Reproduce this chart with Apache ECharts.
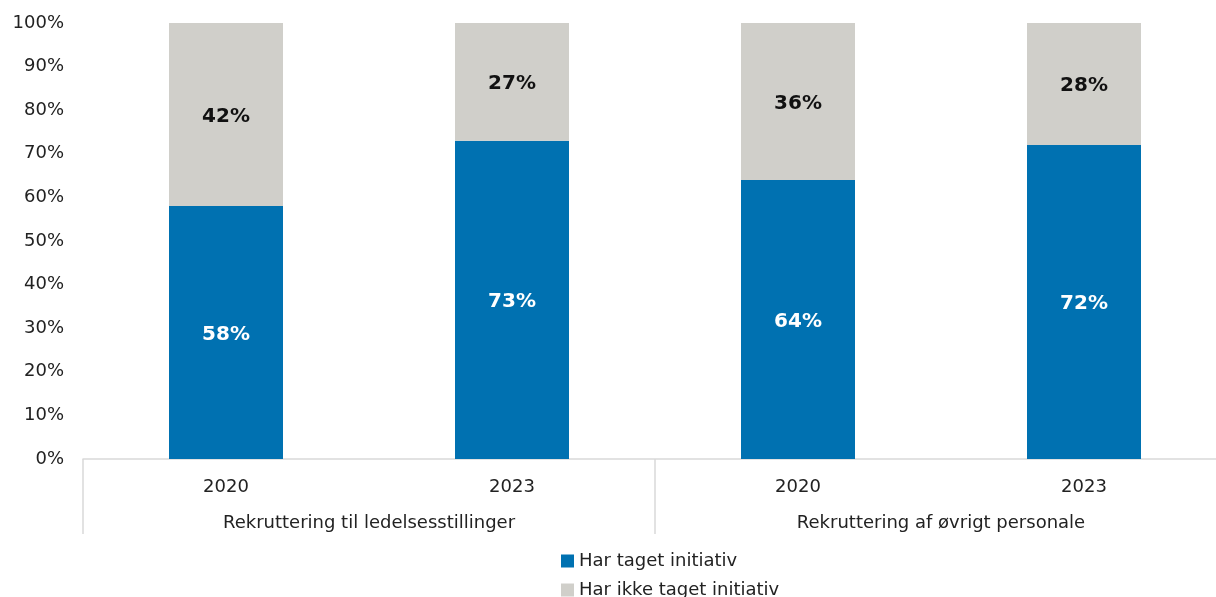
<!DOCTYPE html>
<html>
<head>
<meta charset="utf-8">
<script src="https://cdn.jsdelivr.net/npm/echarts@6/dist/echarts.min.js"></script>
<style>html,body{margin:0;padding:0;background:#fff;overflow:hidden;width:1216px;height:597px}#c{width:1232px;height:597px}</style>
</head>
<body>
<div id="c"></div>
<script>
const years = ['2020', '2023', '2020', '2023'];
const groups = ['Rekruttering til ledelsesstillinger', 'Rekruttering af øvrigt personale'];
const seriesNames = ['Har taget initiativ', 'Har ikke taget initiativ'];
const harTaget = [58, 73, 64, 72];
const harIkkeTaget = [42, 27, 36, 28];
const yTicks = [0, 10, 20, 30, 40, 50, 60, 70, 80, 90, 100];

const FONT = 'DejaVu Sans';
const legendText = { fontFamily: FONT, fontSize: 18, color: '#222' };
const chart = echarts.init(document.getElementById('c'));
chart.setOption({
  animation: false,
  textStyle: { fontFamily: FONT },
  grid: { left: 83, top: 23, width: 1144, height: 436, containLabel: false },
  legend: [
    { left: 556, top: 547, itemWidth: 13, itemHeight: 13, icon: 'rect', textStyle: legendText, data: [seriesNames[0]] },
    { left: 556, top: 576, itemWidth: 13, itemHeight: 13, icon: 'rect', textStyle: legendText, data: [seriesNames[1]] }
  ],
  yAxis: {
    type: 'value',
    min: yTicks[0],
    max: yTicks[yTicks.length - 1],
    interval: 10,
    axisLine: { show: false },
    axisTick: { show: false },
    splitLine: { show: false },
    axisLabel: { formatter: '{value}%', fontFamily: FONT, fontSize: 18, color: '#222', margin: 19, padding: [3, 0, 0, 0] }
  },
  xAxis: [
    {
      type: 'category',
      data: years,
      position: 'bottom',
      axisLine: { show: true, lineStyle: { color: '#d9d9d9', width: 1.5 } },
      axisTick: { show: false },
      axisLabel: { fontFamily: FONT, fontSize: 18, color: '#222', margin: 19 }
    },
    {
      type: 'category',
      data: groups,
      position: 'bottom',
      offset: 0,
      axisLine: { show: false },
      axisTick: { show: true, length: 75, interval: 0, lineStyle: { color: '#d9d9d9', width: 1.5 } },
      axisLabel: { fontFamily: FONT, fontSize: 18, color: '#222', margin: 55 }
    }
  ],
  series: [
    {
      name: seriesNames[0],
      type: 'bar',
      stack: 'a',
      xAxisIndex: 0,
      barWidth: 114,
      data: harTaget,
      itemStyle: { color: '#0071B1' },
      label: { show: true, position: 'inside', offset: [0, 2], formatter: '{c}%', color: '#fff', fontWeight: 'bold', fontSize: 20, fontFamily: FONT }
    },
    {
      name: seriesNames[1],
      type: 'bar',
      stack: 'a',
      xAxisIndex: 0,
      barWidth: 114,
      data: harIkkeTaget,
      itemStyle: { color: '#D0CFCA' },
      label: { show: true, position: 'inside', offset: [0, 2], formatter: '{c}%', color: '#111', fontWeight: 'bold', fontSize: 20, fontFamily: FONT }
    }
  ]
});
</script>
</body>
</html>
